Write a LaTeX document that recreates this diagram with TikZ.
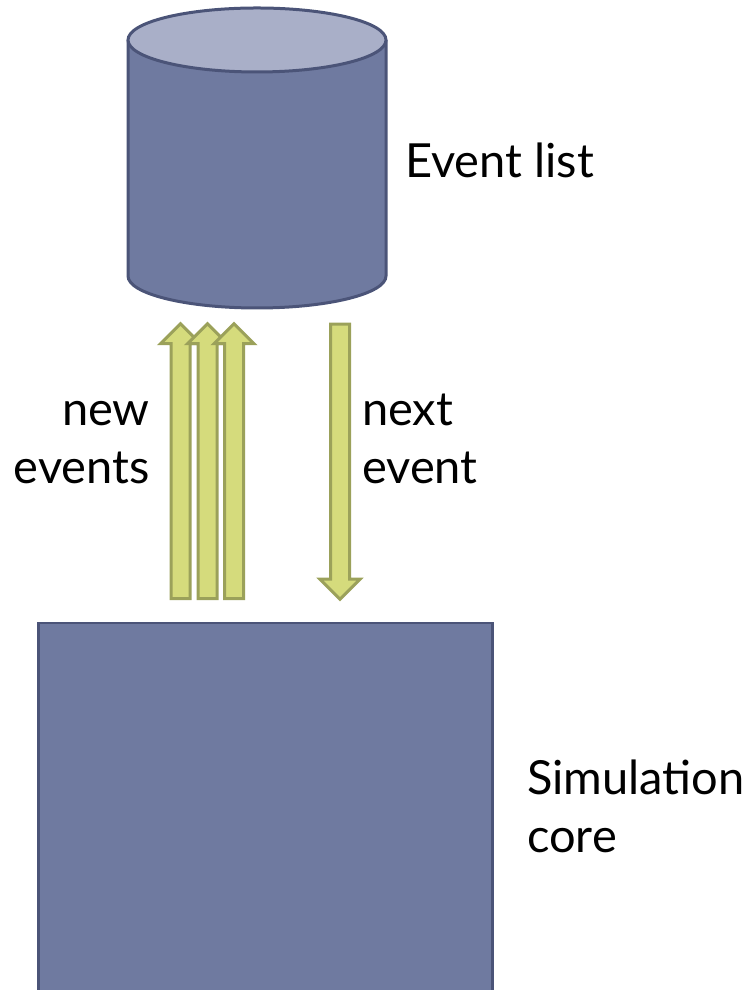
\documentclass[tikz,border=0pt]{standalone}
\usepackage{fontspec}
\setmainfont{Lato}
\usetikzlibrary{shapes.arrows, positioning, calc}
\definecolor{bodyblue}{RGB}{111,122,160}
\definecolor{topblue}{RGB}{169,175,200}
\definecolor{edgeblue}{RGB}{75,84,120}
\definecolor{arrowfill}{RGB}{213,219,124}
\definecolor{arrowedge}{RGB}{155,161,90}
\begin{document}
\begin{tikzpicture}[x=1pt, y=1pt,
	fatarrow/.style={single arrow, draw=arrowedge, fill=arrowfill, line width=3pt, inner xsep=0pt, inner ysep=8pt, single arrow head extend=10.5pt, single arrow tip angle=90, minimum height=275pt},
	words/.style={font=\fontsize{47}{58}\selectfont, inner sep=0pt}]
	\useasboundingbox (0,0) rectangle (753,990);
	% event list
	\fill[bodyblue] (128,950) -- (128,714) arc[start angle=180, end angle=360, x radius=129, y radius=32] -- (386,950) -- cycle;
	\draw[edgeblue, line width=3pt] (128,950) -- (128,714) arc[start angle=180, end angle=360, x radius=129, y radius=32] -- (386,950);
	\draw[edgeblue, line width=3pt, fill=topblue] (257,950) ellipse[x radius=129, y radius=32];
	\node[words, anchor=base west] (evtext) at (405,812) {Event list};
	% simulation core
	\node[draw=edgeblue, fill=bodyblue, line width=2.5pt, minimum width=454pt, minimum height=400pt, anchor=north west] (core) at (37,368) {};
	\node[words, anchor=base west, align=left] (coretext) at (527,137) {Simulation\\core};
	% arrows
	\foreach \x [count=\i] in {180.5, 207.5, 234}
		\node[fatarrow, rotate=90] (new\i) at (\x,524) {};
	\node[fatarrow, rotate=-90] (next) at (340,533) {};
	\node[words, anchor=base east, align=right] (newtext) at (150,506) {new\\events};
	\node[words, anchor=base west, align=left] (nexttext) at (362,506) {next\\event};
\end{tikzpicture}
\end{document}
